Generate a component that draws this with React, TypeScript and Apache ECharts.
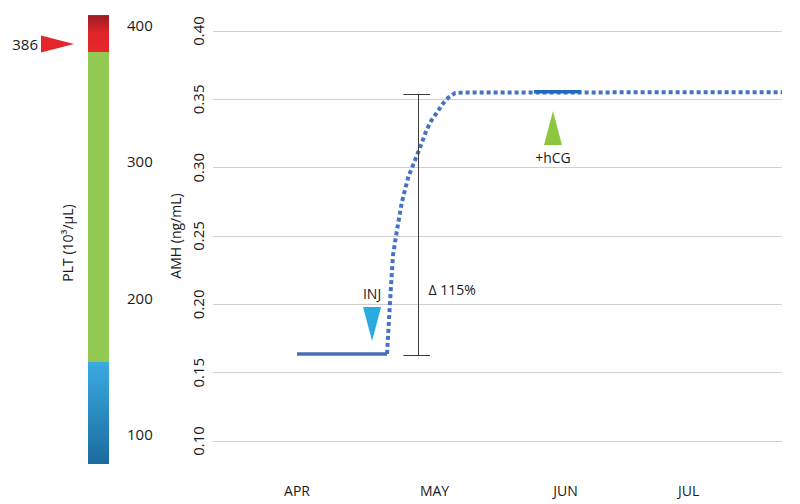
import React, { useEffect, useRef } from "react";
import * as echarts from "echarts";

// ---- data ----
const months = ["APR", "MAY", "JUN", "JUL"];
const monthTicks = [1, 2.05, 3.05, 3.99];

// AMH (ng/mL)
const baselineX = [1.0, 1.687];
const baselineY = [0.1637, 0.1637];
const riseX = [1.687, 1.702, 1.718, 1.733, 1.761, 1.799, 1.85, 1.901, 1.952, 1.989, 2.028, 2.066, 2.117, 2.153, 2.206, 2.282, 4.702];
const riseY = [0.1637, 0.1885, 0.2141, 0.2361, 0.2531, 0.2741, 0.2934, 0.3056, 0.318, 0.3276, 0.3349, 0.34, 0.3473, 0.351, 0.3546, 0.355, 0.3552];
const hcgX = [2.809, 3.168];
const hcgY = [0.3556, 0.3556];
const injMarker = [1.573, 0.1856];
const hcgMarker = [2.954, 0.329];
const deltaX = 1.924;
const deltaCapX = [1.812, 2.015];
const deltaLow = 0.1624;
const deltaHigh = 0.3537;
const deltaLabelY = 0.2105;
const deltaLabel = "Δ 115%";

// PLT (10^3/µL) colour scale
const pltBounds = [77.9, 152.7, 380.2, 407.3];
const pltTicks = [100, 200, 300, 400];
const pltValue = 386;

const FONT = "Open Sans";
const TXT = "#1a1a1a";

export default function App() {
  const ref = useRef<HTMLDivElement>(null);
  useEffect(() => {
    document.body.style.margin = "0";
    const chart = echarts.init(ref.current!, null, { renderer: "svg" });
    const pair = (xs: number[], ys: number[]) => xs.map((x, i) => [x, ys[i]]);
    const segs = [pltBounds[0], pltBounds[1] - pltBounds[0], pltBounds[2] - pltBounds[1], pltBounds[3] - pltBounds[2]];
    const option: any = {
      animation: false,
      backgroundColor: "#ffffff",
      textStyle: { fontFamily: FONT },
      grid: [
        { left: 213, right: 18, top: 31, bottom: 63 },
        { left: 88, width: 21, top: 11.4, bottom: 29.2 },
      ],
      xAxis: [
        {
          type: "value",
          gridIndex: 0,
          min: 0.3588,
          max: 4.702,
          axisLine: { show: false },
          axisTick: { show: false },
          splitLine: { show: false },
          axisLabel: {
            customValues: monthTicks,
            margin: 42,
            fontSize: 14,
            color: TXT,
            fontFamily: FONT,
            formatter: (v: number) => {
              let best = 0;
              monthTicks.forEach((t, i) => {
                if (Math.abs(t - v) < Math.abs(monthTicks[best] - v)) best = i;
              });
              return months[best];
            },
          },
        },
        {
          type: "category",
          gridIndex: 1,
          data: ["PLT"],
          show: false,
        },
      ],
      yAxis: [
        {
          type: "value",
          gridIndex: 0,
          min: 0.1,
          max: 0.4,
          interval: 0.05,
          name: "AMH (ng/mL)",
          nameLocation: "middle",
          nameGap: 27,
          nameTextStyle: { fontSize: 14, color: TXT, fontFamily: FONT },
          axisLine: { show: false },
          axisTick: { show: false },
          splitLine: { lineStyle: { color: "#cfcfcf", width: 1 } },
          axisLabel: {
            rotate: 90,
            margin: 8,
            fontSize: 15,
            color: TXT,
            fontFamily: FONT,
            formatter: (v: number) => v.toFixed(2),
          },
        },
        {
          type: "value",
          gridIndex: 1,
          position: "right",
          min: 70,
          max: 410,
          axisLine: { show: false },
          axisTick: { show: false },
          splitLine: { show: false },
          axisLabel: {
            customValues: pltTicks,
            margin: 18,
            fontSize: 15,
            color: TXT,
            fontFamily: FONT,
          },
        },
      ],
      series: [
        {
          name: "AMH rise",
          type: "line",
          xAxisIndex: 0,
          yAxisIndex: 0,
          data: pair(riseX, riseY),
          showSymbol: false,
          symbol: "none",
          lineStyle: { color: "#4472c4", width: 4, type: [4, 3], cap: "butt" },
          z: 3,
        },
        {
          name: "AMH baseline",
          type: "line",
          xAxisIndex: 0,
          yAxisIndex: 0,
          data: pair(baselineX, baselineY),
          symbol: "none",
          lineStyle: { color: "#4a6db3", width: 3.5 },
          z: 4,
        },
        {
          name: "AMH hCG",
          type: "line",
          xAxisIndex: 0,
          yAxisIndex: 0,
          data: pair(hcgX, hcgY),
          symbol: "none",
          lineStyle: { color: "#1f6dbf", width: 3.5 },
          z: 4,
        },
        {
          name: "INJ",
          type: "scatter",
          xAxisIndex: 0,
          yAxisIndex: 0,
          data: [injMarker],
          symbol: "triangle",
          symbolRotate: 180,
          symbolSize: [18, 34],
          itemStyle: { color: "#29abe2", opacity: 1 },
          label: { show: true, position: "top", distance: 7, formatter: "INJ", fontSize: 14, color: TXT, fontFamily: FONT },
          z: 5,
        },
        {
          name: "+hCG",
          type: "scatter",
          xAxisIndex: 0,
          yAxisIndex: 0,
          data: [hcgMarker],
          symbol: "triangle",
          symbolSize: [18, 34],
          itemStyle: { color: "#8cc63f", opacity: 1 },
          label: { show: true, position: "bottom", distance: 5, formatter: "+hCG", fontSize: 14, color: TXT, fontFamily: FONT },
          z: 5,
        },
        {
          name: "delta",
          type: "scatter",
          xAxisIndex: 0,
          yAxisIndex: 0,
          data: [[deltaX, deltaLabelY]],
          symbolSize: 1,
          itemStyle: { color: "rgba(0,0,0,0)", opacity: 1 },
          label: { show: true, position: "right", distance: 10, formatter: deltaLabel, fontSize: 14, color: TXT, fontFamily: FONT },
          markLine: {
            silent: true,
            symbol: ["none", "none"],
            label: { show: false },
            lineStyle: { color: "#3a3a3a", width: 1, type: "solid" },
            data: [
              [{ coord: [deltaX, deltaLow] }, { coord: [deltaX, deltaHigh] }],
              [{ coord: [deltaCapX[0], deltaHigh] }, { coord: [deltaCapX[1], deltaHigh] }],
              [{ coord: [deltaCapX[0], deltaLow] }, { coord: [deltaCapX[1], deltaLow] }],
            ],
          },
          z: 5,
        },
        {
          name: "pltBase",
          type: "bar",
          xAxisIndex: 1,
          yAxisIndex: 1,
          stack: "plt",
          data: [segs[0]],
          barWidth: 21,
          itemStyle: { color: "rgba(0,0,0,0)" },
          silent: true,
        },
        {
          name: "pltLow",
          type: "bar",
          xAxisIndex: 1,
          yAxisIndex: 1,
          stack: "plt",
          data: [segs[1]],
          barWidth: 21,
          itemStyle: {
            color: new echarts.graphic.LinearGradient(0, 0, 0, 1, [
              { offset: 0, color: "#3aabe3" },
              { offset: 1, color: "#1b6b9c" },
            ]),
          },
        },
        {
          name: "pltNormal",
          type: "bar",
          xAxisIndex: 1,
          yAxisIndex: 1,
          stack: "plt",
          data: [segs[2]],
          barWidth: 21,
          itemStyle: { color: "#92c953" },
        },
        {
          name: "pltHigh",
          type: "bar",
          xAxisIndex: 1,
          yAxisIndex: 1,
          stack: "plt",
          data: [segs[3]],
          barWidth: 21,
          itemStyle: {
            color: new echarts.graphic.LinearGradient(0, 0, 0, 1, [
              { offset: 0, color: "#9a1c22" },
              { offset: 0.5, color: "#e0252b" },
              { offset: 1, color: "#e8262c" },
            ]),
          },
        },
        {
          name: "pltMarker",
          type: "scatter",
          xAxisIndex: 1,
          yAxisIndex: 1,
          data: [[0, pltValue]],
          symbol: "triangle",
          symbolRotate: -90,
          symbolSize: [17, 33],
          symbolOffset: [-41, 0],
          itemStyle: { color: "#e3262b", opacity: 1 },
          label: { show: true, position: "left", distance: 3, formatter: String(pltValue), fontSize: 15, color: TXT, fontFamily: FONT },
          z: 5,
        },
      ],
      graphic: [
        {
          type: "text",
          x: 67,
          y: 243,
          rotation: Math.PI / 2,
          style: { text: "PLT (10³/µL)", fontSize: 14, fill: TXT, fontFamily: FONT, align: "center", verticalAlign: "middle" },
        },
      ],
    };
    chart.setOption(option);
    return () => chart.dispose();
  }, []);
  return <div ref={ref} style={{ width: 800, height: 504 }} />;
}
